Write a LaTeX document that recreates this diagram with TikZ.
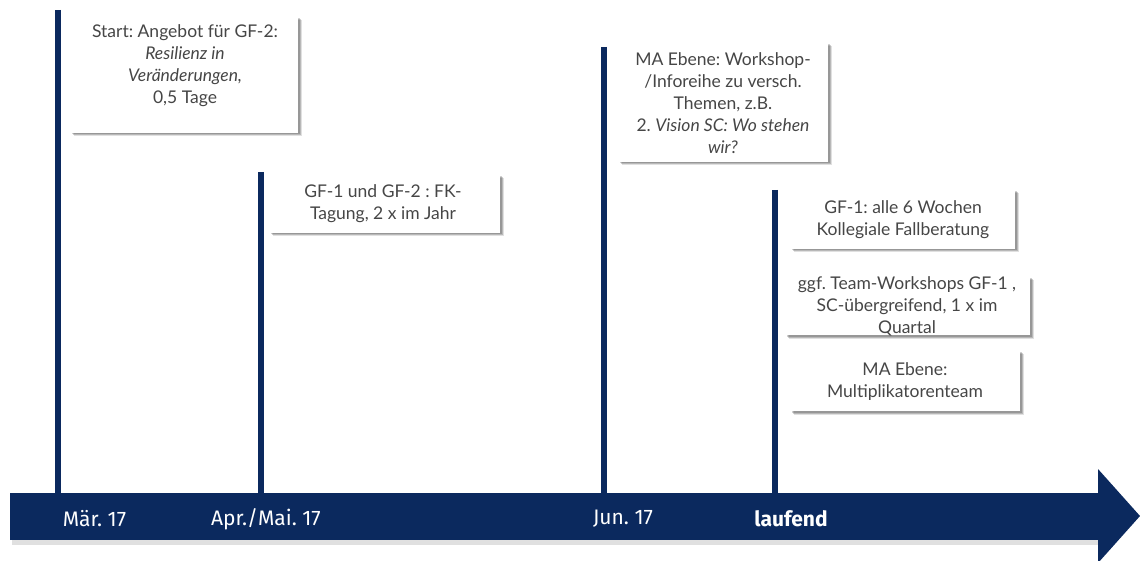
\documentclass[tikz,border=0pt]{standalone}
\usepackage{fontspec}
\setmainfont{Lato}
\newfontfamily\barfont{Fira Sans}
\usetikzlibrary{shadows}
\frenchspacing
\definecolor{navy}{RGB}{11,41,94}
\definecolor{txtgray}{RGB}{70,70,70}
\tikzset{
  card/.style={draw=none, fill=white, inner sep=0pt,
    general shadow={shadow xshift=3.5pt, shadow yshift=-3.5pt, opacity=0.12, fill=black},
    general shadow={shadow xshift=2.5pt, shadow yshift=-2.5pt, opacity=0.18, fill=black},
    general shadow={shadow xshift=1.5pt, shadow yshift=-1.5pt, opacity=0.18, fill=black}},
  txt/.style={text=txtgray, align=center, inner sep=0pt,
    font=\fontsize{17.5}{22}\selectfont},
  stem/.style={draw=navy, line width=6pt},
  barlbl/.style={text=white, inner sep=0pt, font=\barfont\fontsize{21}{24}\selectfont},
}
\begin{document}
\begin{tikzpicture}[x=1pt, y=-1pt]
\useasboundingbox (0,0) rectangle (1140,561);
% timeline arrow
\fill[black!20, opacity=0.6] (12,498) rectangle (1100,545);
\node[fill=navy, draw=none, minimum width=1088pt, minimum height=47pt, inner sep=0pt, anchor=north west] (bar) at (10,493) {};
\fill[navy] (1098,469) -- (1140,516) -- (1098,563) -- cycle;
\coordinate (tip) at (1140,516);
% stems
\coordinate (s1) at (58,10);
\coordinate (s2) at (261,172);
\coordinate (s3) at (604,47);
\coordinate (s4) at (775,190);
\coordinate (e1) at (58,493);
\coordinate (e2) at (261,493);
\coordinate (e3) at (604,493);
\coordinate (e4) at (775,493);
\draw[stem] (s1) -- (e1);
\draw[stem] (s2) -- (e2);
\draw[stem] (s3) -- (e3);
\draw[stem] (s4) -- (e4);
% bar labels
\node[barlbl] (l1) at (94.5,519) {Mär. 17};
\node[barlbl] (l2) at (266,519) {Apr./Mai. 17};
\node[barlbl] (l3) at (623,519) {Jun. 17};
\node[barlbl, font=\barfont\bfseries\fontsize{21}{24}\selectfont] (l4) at (791,519) {laufend};
% cards
\node[card, minimum width=228pt, minimum height=116pt] (b1) at (184,75) {};
\node[txt] (t1) at (185,66) {Start: Angebot für GF-2:\\\textit{Resilienz in}\\\textit{Veränderungen,}\\0,5 Tage};
\node[card, minimum width=231pt, minimum height=58pt] (b2) at (384.5,204) {};
\node[txt] (t2) at (383,203.5) {GF-1 und GF-2 : FK-\\Tagung, 2 x im Jahr};
\node[card, minimum width=210pt, minimum height=119pt] (b3) at (723,102.5) {};
\node[txt] (t3) at (723,103.5) {MA Ebene: Workshop-\\/Inforeihe zu versch.\\Themen, z.B.\\2. \textit{Vision SC: Wo stehen}\\\textit{wir?}};
\node[card, minimum width=225pt, minimum height=59pt] (b4) at (902.5,219.5) {};
\node[txt] (t4) at (903,220) {GF-1: alle 6 Wochen\\Kollegiale Fallberatung};
\node[card, minimum width=245pt, minimum height=58pt] (b5) at (907.5,306) {};
\node[txt] (t5) at (907,306) {ggf. Team-Workshops GF-1 ,\\SC-übergreifend, 1 x im\\Quartal};
\node[card, minimum width=230pt, minimum height=61pt] (b6) at (905,380.5) {};
\node[txt] (t6) at (905,382) {MA Ebene:\\Multiplikatorenteam};
\end{tikzpicture}
\end{document}
